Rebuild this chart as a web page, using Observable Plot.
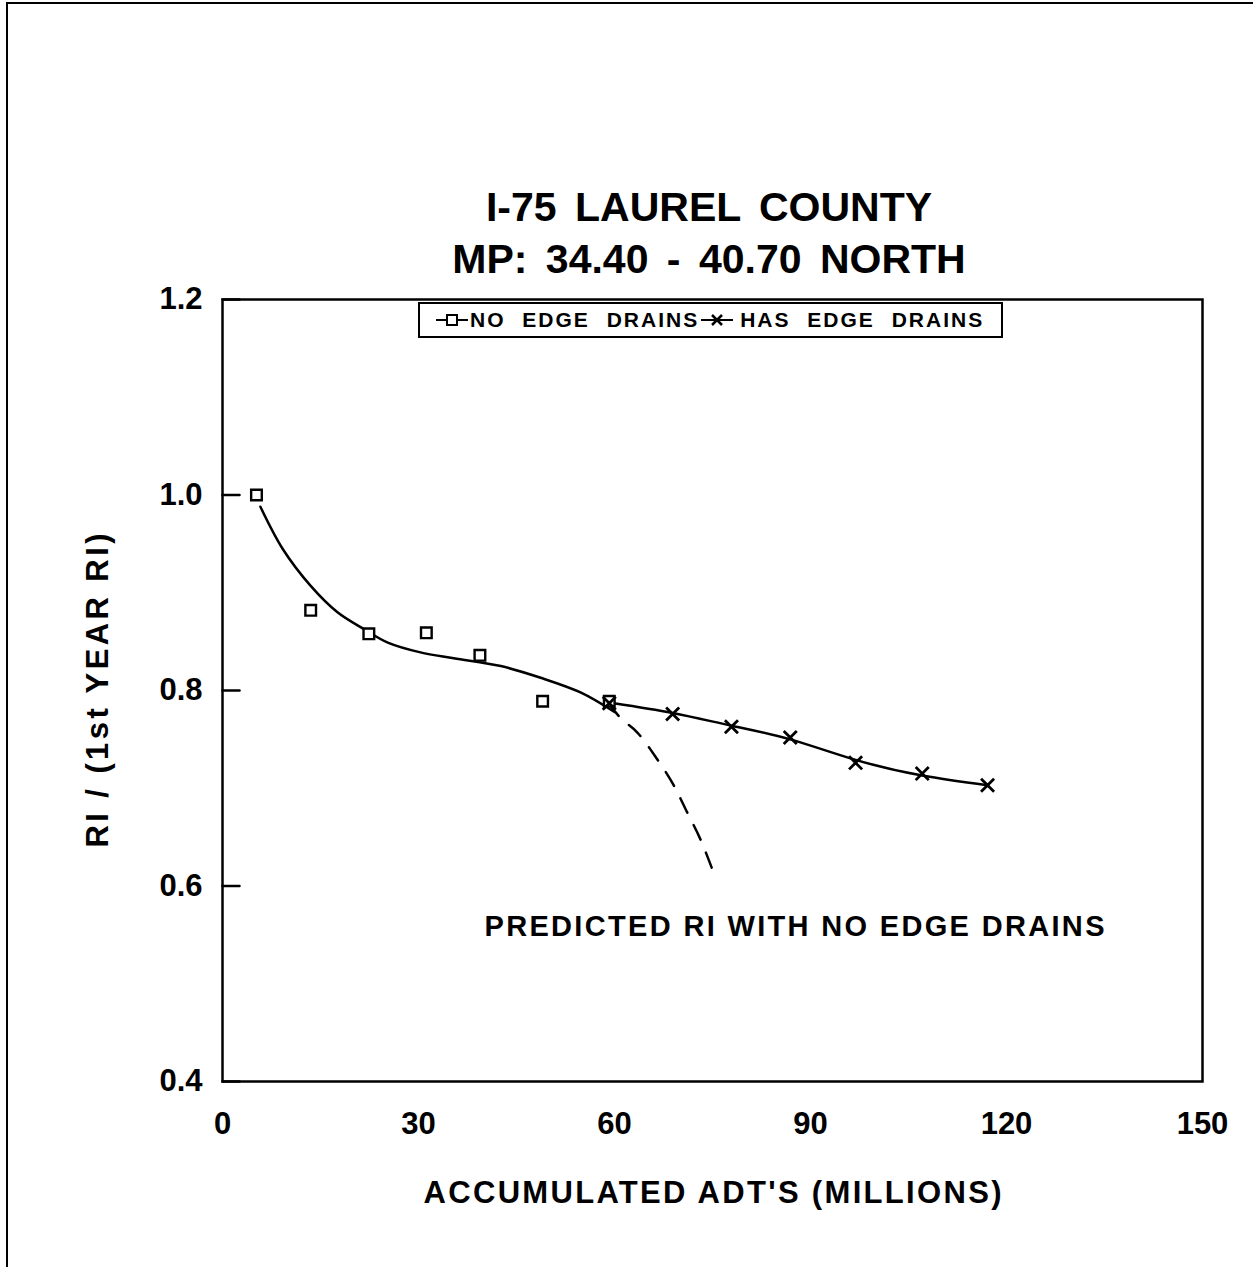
<!DOCTYPE html>
<html>
<head>
<meta charset="utf-8">
<script src="https://cdn.jsdelivr.net/npm/d3@7"></script>
<script src="https://cdn.jsdelivr.net/npm/@observablehq/plot@0.6"></script>
<style>
  html, body { margin: 0; padding: 0; background: #fff; }
  #wrap { position: relative; width: 1253px; height: 1267px; overflow: hidden; background: #fff;
          font-family: "Liberation Sans", Arial, Helvetica, sans-serif; font-weight: bold; color: #000; }
  #border { position: absolute; left: 6px; top: 2px; right: 0; bottom: 0; border-left: 2px solid #000; border-top: 2px solid #000; }
  .title { position: absolute; left: 0; width: 1418px; text-align: center; font-size: 41px; white-space: nowrap; word-spacing: 7px; }
  #legend { position: absolute; left: 418px; top: 302px; width: 581px; height: 32px; border: 2px solid #000; background: #fff;
            display: flex; align-items: center; font-size: 21px; letter-spacing: 2px; word-spacing: 9px; white-space: nowrap; }
  #legend svg { display: block; }
  #plot { position: absolute; left: 0; top: 0; }
</style>
</head>
<body>
<div id="wrap">
  <div id="border"></div>
  <div id="plot"></div>
  <div class="title" id="t1" style="top:184px;">I-75 LAUREL COUNTY</div>
  <div class="title" id="t2" style="top:236px;">MP: 34.40 - 40.70 NORTH</div>
  <div id="legend"></div>
</div>
<script>
// ---- data ----
const titleLine1 = "I-75 LAUREL COUNTY";
const titleLine2 = "MP: 34.40 - 40.70 NORTH";
const xLabel = "ACCUMULATED ADT'S (MILLIONS)";
const yLabel = "RI / (1st YEAR RI)";
const seriesNames = ["NO EDGE DRAINS", "HAS EDGE DRAINS"];
const annotation = "PREDICTED RI WITH NO EDGE DRAINS";

const xTicks = [0, 30, 60, 90, 120, 150];
const yTicks = [0.4, 0.6, 0.8, 1.0, 1.2];

// observed points: no edge drains (squares)
const noDrainX = [5.2, 13.5, 22.4, 31.2, 39.4, 49.0, 59.2];
const noDrainY = [1.000, 0.882, 0.858, 0.859, 0.836, 0.789, 0.789];

// observed points: has edge drains (x marks)
const hasDrainX = [59.2, 68.9, 77.9, 86.9, 96.9, 107.1, 117.1];
const hasDrainY = [0.787, 0.776, 0.763, 0.752, 0.726, 0.715, 0.703];

// fitted curve for no edge drains (solid)
const fitX = [5.8, 9.2, 13.5, 17.6, 21.6, 25.3, 30.3, 35.4, 42.6, 48.7, 54.8, 60.0];
const fitY = [0.988, 0.945, 0.907, 0.880, 0.863, 0.849, 0.839, 0.833, 0.825, 0.813, 0.798, 0.778];

// fitted curve for has edge drains (solid)
const hasFitX = [59.9, 68.9, 77.9, 86.9, 96.9, 107.1, 117.1];
const hasFitY = [0.787, 0.777, 0.764, 0.750, 0.729, 0.713, 0.703];

// predicted continuation with no edge drains (dashed)
const predX = [59.1, 60.9, 63.5, 66.3, 68.9, 71.0, 73.2, 75.2];
const predY = [0.787, 0.772, 0.757, 0.732, 0.705, 0.677, 0.647, 0.613];

// annotation anchor (data coords)
const annX = [40.1];
const annY = [0.558];

// ---- tables ----
const noDrain = noDrainX.map((x, i) => ({x, y: noDrainY[i]}));
const hasDrain = hasDrainX.map((x, i) => ({x, y: hasDrainY[i]}));
const fit = fitX.map((x, i) => ({x, y: fitY[i]}));
const hasFit = hasFitX.map((x, i) => ({x, y: hasFitY[i]}));
const pred = predX.map((x, i) => ({x, y: predY[i]}));
const ann = annX.map((x, i) => ({x, y: annY[i], text: annotation}));

document.getElementById("t1").textContent = titleLine1;
document.getElementById("t2").textContent = titleLine2;

const tickShape = { draw(context, l) { context.moveTo(0, 0); context.lineTo(0, -l); } };

const chart = Plot.plot({
  width: 1253,
  height: 1267,
  marginLeft: 222,
  marginRight: 51,
  marginTop: 299,
  marginBottom: 186,
  style: { fontFamily: "'Liberation Sans', Arial, sans-serif", fontWeight: "bold", color: "#000", background: "transparent", overflow: "visible" },
  x: { domain: [0, 150] },
  y: { domain: [0.4, 1.2] },
  marks: [
    Plot.axisX({ ticks: xTicks, tickSize: 0, tickPadding: 30, fontSize: 31, label: null, tickFormat: d => String(d) }),
    Plot.axisY({ ticks: yTicks, tickSize: 0, tickPadding: 20, fontSize: 31, label: null, tickFormat: d => d.toFixed(1) }),
    Plot.vector(yTicks, { y: d => d, frameAnchor: "left", length: 17, rotate: 90, anchor: "start", shape: tickShape, stroke: "#000", strokeWidth: 2.5 }),
    Plot.text([xLabel], { frameAnchor: "bottom", dy: 121, fontSize: 31, text: d => d, textAnchor: "middle", lineAnchor: "bottom" }),
    Plot.text([yLabel], { frameAnchor: "left", dx: -124, rotate: -90, fontSize: 31, text: d => d, textAnchor: "middle" }),
    Plot.line(fit, { x: "x", y: "y", curve: "catmull-rom", stroke: "#000", strokeWidth: 2.5 }),
    Plot.line(pred, { x: "x", y: "y", curve: "catmull-rom", stroke: "#000", strokeWidth: 2.5, strokeDasharray: "16,14" }),
    Plot.line(hasFit, { x: "x", y: "y", curve: "natural", stroke: "#000", strokeWidth: 2.5 }),
    Plot.dot(noDrain, { x: "x", y: "y", symbol: "square", r: 6, stroke: "#000", strokeWidth: 2.4, fill: "#fff" }),
    Plot.dot(hasDrain, { x: "x", y: "y", symbol: "times", r: 6, stroke: "#000", strokeWidth: 2.8 }),
    Plot.text(ann, { x: "x", y: "y", text: "text", fontSize: 29, textAnchor: "start", fill: "#000" }),
    Plot.frame({ stroke: "#000", strokeWidth: 2.5 })
  ]
});
document.getElementById("plot").appendChild(chart);

// spread letters as in the original plotter lettering
const svg = d3.select(chart);
function spread(content, len) {
  svg.selectAll("text").filter(function () { return this.textContent === content; })
    .attr("textLength", len).attr("lengthAdjust", "spacing");
}
spread(annotation, 620);
spread(xLabel, 578);
spread(yLabel, 314);

// legend
const leg = d3.select("#legend");
function swatch(kind) {
  const s = leg.append("svg").attr("width", 36).attr("height", 20).style("margin-left", kind === "sq" ? "14px" : "0px").style("margin-right", kind === "sq" ? "0px" : "5px");
  s.append("line").attr("x1", 2).attr("x2", 34).attr("y1", 10).attr("y2", 10).attr("stroke", "#000").attr("stroke-width", 2);
  if (kind === "sq") {
    s.append("rect").attr("x", 13).attr("y", 5).attr("width", 10).attr("height", 10).attr("fill", "#fff").attr("stroke", "#000").attr("stroke-width", 2);
  } else {
    s.append("path").attr("d", "M13,5L23,15M23,5L13,15").attr("stroke", "#000").attr("stroke-width", 2.5);
  }
}
swatch("sq");
leg.append("span").text(seriesNames[0]);
swatch("x");
leg.append("span").text(seriesNames[1]);
</script>
</body>
</html>
